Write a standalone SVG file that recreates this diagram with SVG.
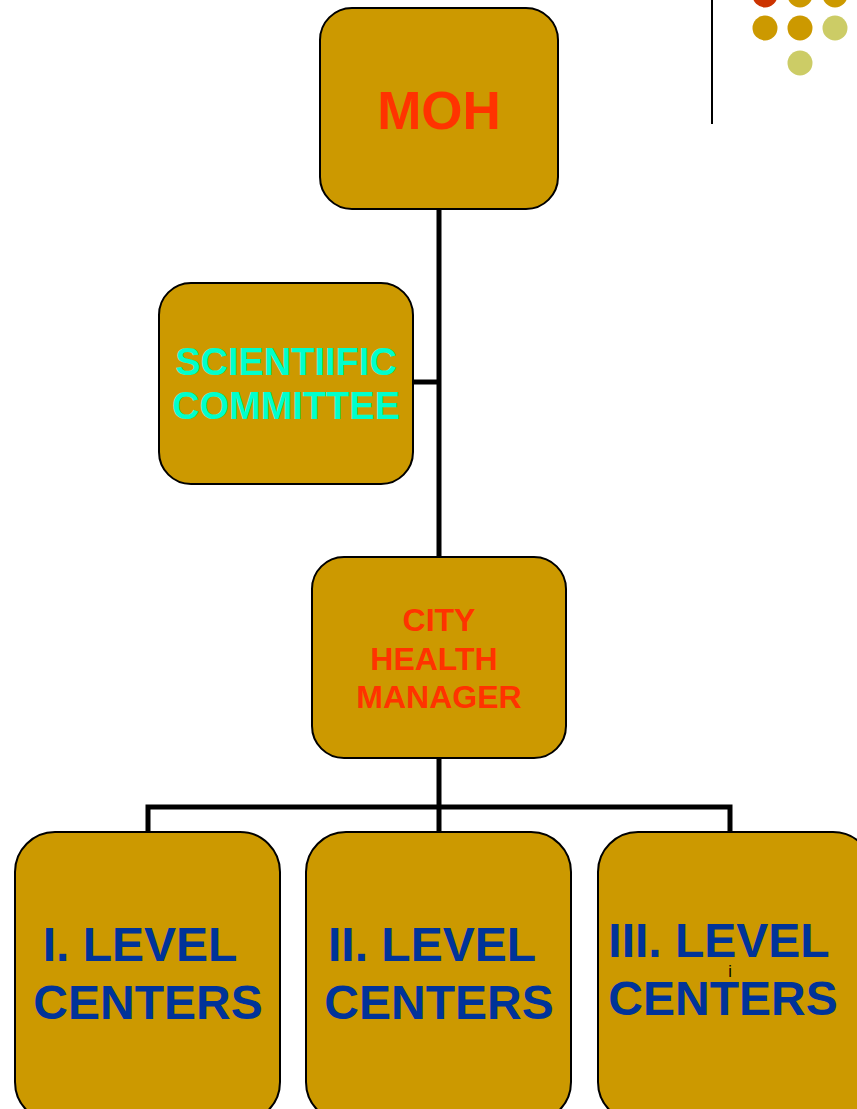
<svg xmlns="http://www.w3.org/2000/svg" width="857" height="1109" viewBox="0 0 857 1109">
<style>
.box{fill:#CC9900;stroke:#000;stroke-width:2}
.t{font-family:"Liberation Sans",Arial,sans-serif;font-weight:bold;text-anchor:middle}
.red{fill:#FF3300}
.cyan{fill:#00FFCC}
.blue{fill:#003399}
.conn{stroke:#000;stroke-width:5;fill:none}
</style>
<rect width="857" height="1109" fill="#fff"/>
<line x1="712" y1="0" x2="712" y2="124" stroke="#000" stroke-width="2"/>
<g id="dots">
<circle cx="765" cy="-5" r="12.5" fill="#CC3300"/>
<circle cx="800" cy="-5" r="12.5" fill="#CC9900"/>
<circle cx="835" cy="-5" r="12.5" fill="#CC9900"/>
<circle cx="765" cy="28" r="12.5" fill="#CC9900"/>
<circle cx="800" cy="28" r="12.5" fill="#CC9900"/>
<circle cx="835" cy="28" r="12.5" fill="#CCCC66"/>
<circle cx="800" cy="63" r="12.5" fill="#CCCC66"/>
</g>
<g id="connectors">
<path class="conn" d="M439 209 V557"/>
<path class="conn" d="M413 382 H439"/>
<path class="conn" d="M439 758 V832"/>
<path class="conn" d="M148 832 V807 H730 V832"/>
</g>
<g id="moh"><rect class="box" x="320" y="8" width="238" height="201" rx="32"/>
<text class="t red" x="439" y="129" font-size="53">MOH</text></g>
<g id="sci"><rect class="box" x="159" y="283" width="254" height="201" rx="32"/>
<text class="t cyan" x="286" y="375" font-size="38">SCIENTIIFIC</text>
<text class="t cyan" x="286" y="419" font-size="38">COMMITTEE</text></g>
<g id="city"><rect class="box" x="312" y="557" width="254" height="201" rx="32"/>
<text class="t red" x="439" y="631" font-size="32">CITY</text>
<text class="t red" x="434" y="670" font-size="32">HEALTH</text>
<text class="t red" x="439" y="708" font-size="32">MANAGER</text></g>
<g id="l1"><rect class="box" x="15" y="832" width="265" height="290" rx="40"/>
<text class="t blue" x="140" y="961" font-size="48">I. LEVEL</text>
<text class="t blue" x="148" y="1019" font-size="48">CENTERS</text></g>
<g id="l2"><rect class="box" x="306" y="832" width="265" height="290" rx="40"/>
<text class="t blue" x="432" y="961" font-size="48">II. LEVEL</text>
<text class="t blue" x="439" y="1019" font-size="48">CENTERS</text></g>
<g id="l3"><rect class="box" x="598" y="832" width="275" height="290" rx="40"/>
<text class="t blue" x="719" y="957" font-size="48">III. LEVEL</text>
<text class="t blue" x="723" y="1015" font-size="48">CENTERS</text>
<text x="730" y="977" font-family="Liberation Sans,Arial,sans-serif" font-size="16" text-anchor="middle" fill="#000">i</text></g>
</svg>
